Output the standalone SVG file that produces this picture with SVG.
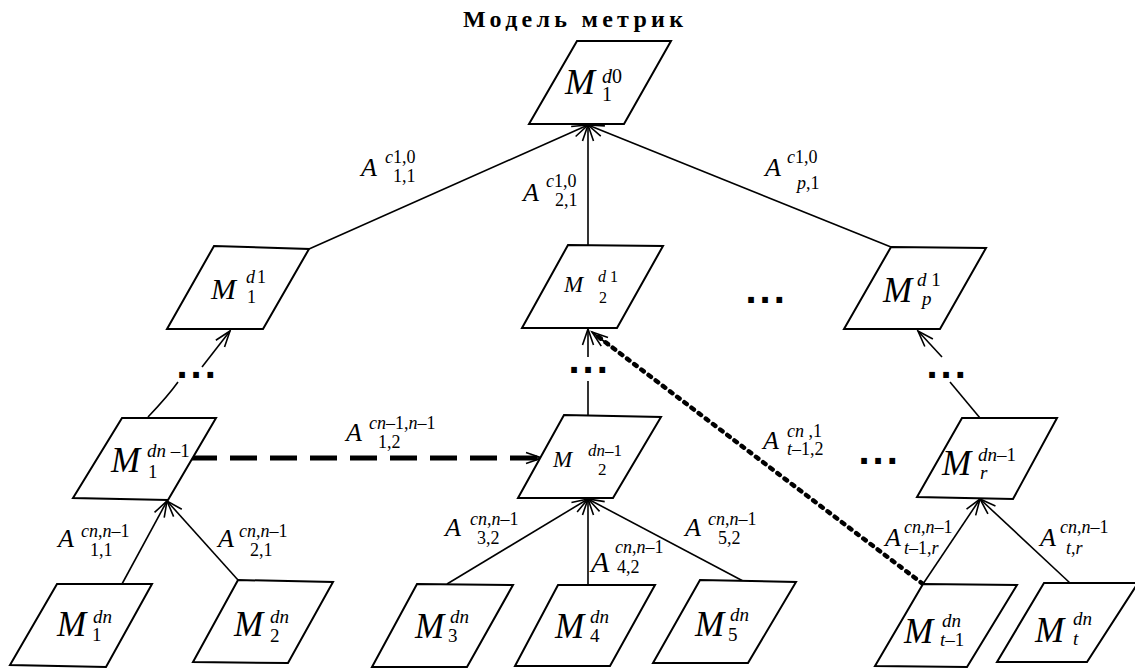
<svg xmlns="http://www.w3.org/2000/svg" width="1135" height="671" viewBox="0 0 1135 671">
<style>
.nd{fill:#fff;stroke:#000;stroke-width:2;stroke-linejoin:miter}
.ln{fill:none;stroke:#000;stroke-width:1.6}
.m{font-family:"Liberation Serif","Times New Roman",serif;font-style:italic;fill:#000}
.u{font-style:normal}
.dots{font-family:"Liberation Sans",Arial,sans-serif;font-weight:bold;font-size:40px;letter-spacing:3px;fill:#000}
.title{font-family:"Liberation Serif","Times New Roman",serif;font-weight:bold;font-size:24px;fill:#000}
</style>
<defs>
<marker id="ar" markerUnits="userSpaceOnUse" markerWidth="18" markerHeight="14" refX="16" refY="6" orient="auto" overflow="visible">
<path d="M0,0.5 L16,6 L0,11.5" fill="none" stroke="#000" stroke-width="1.6"/>
</marker>
</defs>
<rect width="1135" height="671" fill="#fff"/>
<text class="title" x="463" y="27" textLength="220" lengthAdjust="spacing">Модель метрик</text>

<g id="connectors">
<line class="ln" x1="309" y1="249" x2="588" y2="125" marker-end="url(#ar)"/>
<line class="ln" x1="588" y1="245" x2="588" y2="125" marker-end="url(#ar)"/>
<line class="ln" x1="891" y1="247" x2="588" y2="125" marker-end="url(#ar)"/>
<path class="ln" d="M148,417 Q168,396 178,382"/>
<line class="ln" x1="202" y1="367" x2="230" y2="331" marker-end="url(#ar)"/>
<line class="ln" x1="588" y1="415" x2="588" y2="381"/>
<line class="ln" x1="588" y1="357" x2="588" y2="329" marker-end="url(#ar)"/>
<line class="ln" x1="980" y1="418" x2="950" y2="382"/>
<line class="ln" x1="942" y1="357" x2="918" y2="331" marker-end="url(#ar)"/>
<line x1="190" y1="458" x2="540" y2="458" fill="none" stroke="#000" stroke-width="5" stroke-dasharray="27 13"/>
<line class="ln" x1="520" y1="458" x2="542" y2="458" marker-end="url(#ar)"/>
<line x1="923" y1="584" x2="596" y2="335" fill="none" stroke="#000" stroke-width="4.5" stroke-dasharray="3 6" stroke-linecap="round"/>
<line class="ln" x1="610" y1="346" x2="592" y2="332" marker-end="url(#ar)"/>
<line class="ln" x1="122" y1="584" x2="167" y2="501" marker-end="url(#ar)"/>
<line class="ln" x1="238" y1="580" x2="167" y2="501" marker-end="url(#ar)"/>
<line class="ln" x1="447" y1="584" x2="588" y2="499" marker-end="url(#ar)"/>
<line class="ln" x1="588" y1="585" x2="588" y2="499" marker-end="url(#ar)"/>
<line class="ln" x1="743" y1="581" x2="588" y2="499" marker-end="url(#ar)"/>
<line class="ln" x1="923" y1="584" x2="980" y2="499" marker-end="url(#ar)"/>
<line class="ln" x1="1070" y1="583" x2="980" y2="499" marker-end="url(#ar)"/>
</g>

<g id="edge-labels">
<text class="m" font-size="26"><tspan x="361" y="176">A</tspan><tspan x="385" y="163" font-size="18">c<tspan class="u">1,0</tspan></tspan><tspan x="393" y="182" font-size="18" class="u">1,1</tspan></text>
<text class="m" font-size="26"><tspan x="523" y="201">A</tspan><tspan x="546" y="187" font-size="18">c<tspan class="u">1,0</tspan></tspan><tspan x="555" y="206" font-size="18" class="u">2,1</tspan></text>
<text class="m" font-size="26"><tspan x="765" y="176">A</tspan><tspan x="787" y="163" font-size="18">c<tspan class="u">1,0</tspan></tspan><tspan x="797" y="189" font-size="18">p<tspan class="u">,1</tspan></tspan></text>
<text class="m" font-size="26"><tspan x="346" y="441">A</tspan><tspan x="369" y="429" font-size="18">cn<tspan class="u">–1,</tspan>n<tspan class="u">–1</tspan></tspan><tspan x="378" y="448" font-size="18" class="u">1,2</tspan></text>
<text class="m" font-size="26"><tspan x="763" y="449">A</tspan><tspan x="787" y="437" font-size="18">cn <tspan class="u">,1</tspan></tspan><tspan x="787" y="455" font-size="18">t<tspan class="u">–1,2</tspan></tspan></text>
<text class="m" font-size="26"><tspan x="58" y="547">A</tspan><tspan x="81" y="537" font-size="18">cn<tspan class="u">,</tspan>n<tspan class="u">–1</tspan></tspan><tspan x="90" y="556" font-size="18" class="u">1,1</tspan></text>
<text class="m" font-size="26"><tspan x="218" y="547">A</tspan><tspan x="239" y="537" font-size="18">cn<tspan class="u">,</tspan>n<tspan class="u">–1</tspan></tspan><tspan x="250" y="556" font-size="18" class="u">2,1</tspan></text>
<text class="m" font-size="26"><tspan x="445" y="536">A</tspan><tspan x="470" y="525" font-size="18">cn<tspan class="u">,</tspan>n<tspan class="u">–1</tspan></tspan><tspan x="477" y="544" font-size="18" class="u">3,2</tspan></text>
<text class="m" font-size="30"><tspan x="591" y="572">A</tspan><tspan x="615" y="553" font-size="18">cn<tspan class="u">,</tspan>n<tspan class="u">–1</tspan></tspan><tspan x="617" y="573" font-size="18" class="u">4,2</tspan></text>
<text class="m" font-size="26"><tspan x="685" y="536">A</tspan><tspan x="708" y="525" font-size="18">cn<tspan class="u">,</tspan>n<tspan class="u">–1</tspan></tspan><tspan x="718" y="544" font-size="18" class="u">5,2</tspan></text>
<text class="m" font-size="26"><tspan x="885" y="546">A</tspan><tspan x="904" y="533" font-size="18">cn<tspan class="u">,</tspan>n<tspan class="u">–1</tspan></tspan><tspan x="904" y="554" font-size="18">t<tspan class="u">–1,</tspan>r</tspan></text>
<text class="m" font-size="26"><tspan x="1040" y="546">A</tspan><tspan x="1060" y="533" font-size="18">cn<tspan class="u">,</tspan>n<tspan class="u">–1</tspan></tspan><tspan x="1066" y="554" font-size="18">t<tspan class="u">,</tspan>r</tspan></text>
</g>

<g id="ellipses">
<text class="dots" x="176.5" y="378">...</text>
<text class="dots" x="568.5" y="373">...</text>
<text class="dots" x="926.5" y="378">...</text>
<text class="dots" x="745.5" y="303">...</text>
<text class="dots" x="858.5" y="464">...</text>
</g>

<g id="node-M1-d0">
<polygon class="nd" points="577,41 671,41 624,124 529,124"/>
<text class="m" font-size="36"><tspan x="565" y="94">M</tspan><tspan x="602" y="83" font-size="20">d<tspan class="u">0</tspan></tspan><tspan x="602" y="101" font-size="20" class="u">1</tspan></text>
</g>
<g id="node-M1-d1">
<polygon class="nd" points="214,246 309,249 263,329 167,329"/>
<text class="m" font-size="30"><tspan x="211" y="299">M</tspan><tspan x="246" y="283" font-size="18">d<tspan class="u" dx="2">1</tspan></tspan><tspan x="247" y="303" font-size="18" class="u">1</tspan></text>
</g>
<g id="node-M2-d1">
<polygon class="nd" points="568,245 663,246 617,328 522,328"/>
<text class="m" font-size="23"><tspan x="564" y="292">M</tspan><tspan x="598" y="282" font-size="16">d <tspan class="u">1</tspan></tspan><tspan x="599" y="303" font-size="16" class="u">2</tspan></text>
</g>
<g id="node-Mp-d1">
<polygon class="nd" points="891,247 986,248 940,329 844,329"/>
<text class="m" font-size="35"><tspan x="883" y="302">M</tspan><tspan x="917" y="286" font-size="19">d <tspan class="u">1</tspan></tspan><tspan x="922" y="305" font-size="19">p</tspan></text>
</g>
<g id="node-M1-dn-1">
<polygon class="nd" points="122,418 216,418 168,500 73,498"/>
<text class="m" font-size="35"><tspan x="111" y="472">M</tspan><tspan x="147" y="457" font-size="19">dn <tspan class="u">–1</tspan></tspan><tspan x="148" y="478" font-size="19" class="u">1</tspan></text>
</g>
<g id="node-M2-dn-1">
<polygon class="nd" points="564,415 661,417 613,498 518,498"/>
<text class="m" font-size="23"><tspan x="553" y="467">M</tspan><tspan x="588" y="456" font-size="17">dn<tspan class="u">–1</tspan></tspan><tspan x="598" y="475" font-size="17" class="u">2</tspan></text>
</g>
<g id="node-Mr-dn-1">
<polygon class="nd" points="962,418 1057,418 1013,499 917,497"/>
<text class="m" font-size="35"><tspan x="942" y="475">M</tspan><tspan x="978" y="461" font-size="19">dn<tspan class="u">–1</tspan></tspan><tspan x="980" y="479" font-size="19">r</tspan></text>
</g>
<g id="node-M1-dn">
<polygon class="nd" points="57,584 152,584 106,667 10,665"/>
<text class="m" font-size="35"><tspan x="57" y="636">M</tspan><tspan x="93" y="623" font-size="19">dn</tspan><tspan x="92" y="641" font-size="19" class="u">1</tspan></text>
</g>
<g id="node-M2-dn">
<polygon class="nd" points="238,580 333,582 288,663 193,662"/>
<text class="m" font-size="35"><tspan x="234" y="636">M</tspan><tspan x="270" y="623" font-size="19">dn</tspan><tspan x="270" y="642" font-size="19" class="u">2</tspan></text>
</g>
<g id="node-M3-dn">
<polygon class="nd" points="417,584 513,585 467,667 372,667"/>
<text class="m" font-size="35"><tspan x="415" y="638">M</tspan><tspan x="450" y="623" font-size="19">dn</tspan><tspan x="448" y="642" font-size="19" class="u">3</tspan></text>
</g>
<g id="node-M4-dn">
<polygon class="nd" points="558,585 655,585 610,666 515,666"/>
<text class="m" font-size="35"><tspan x="555" y="638">M</tspan><tspan x="590" y="623" font-size="19">dn</tspan><tspan x="590" y="642" font-size="19" class="u">4</tspan></text>
</g>
<g id="node-M5-dn">
<polygon class="nd" points="700,580 796,582 748,663 653,663"/>
<text class="m" font-size="35"><tspan x="695" y="636">M</tspan><tspan x="730" y="621" font-size="19">dn</tspan><tspan x="728" y="641" font-size="19" class="u">5</tspan></text>
</g>
<g id="node-Mt-1-dn">
<polygon class="nd" points="923,584 1017,585 967,667 875,666"/>
<text class="m" font-size="35"><tspan x="904" y="643">M</tspan><tspan x="942" y="627" font-size="19">dn</tspan><tspan x="940" y="646" font-size="19">t<tspan class="u">–1</tspan></tspan></text>
</g>
<g id="node-Mt-dn">
<polygon class="nd" points="1044,583 1138,583 1087,662 997,662"/>
<text class="m" font-size="35"><tspan x="1035" y="642">M</tspan><tspan x="1073" y="625" font-size="19">dn</tspan><tspan x="1073" y="645" font-size="19">t</tspan></text>
</g>
</svg>
